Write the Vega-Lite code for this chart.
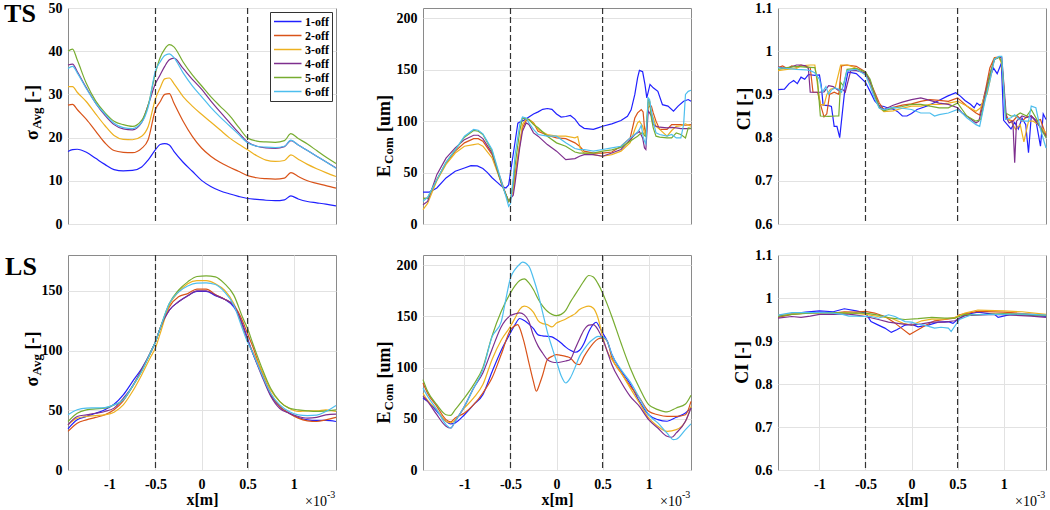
{
"$schema":"https://vega.github.io/schema/vega-lite/v6.json",
"padding":{"left":3,"top":0,"right":4,"bottom":0},
"config":{
 "view":{"stroke":"#8a8a8a","strokeWidth":1},
 "axis":{"domain":false,"ticks":false,"grid":true,"gridColor":"#e2e2e2","gridWidth":1,"labelFont":"Liberation Serif","labelFontWeight":"bold","labelFontSize":14,"labelColor":"#000","labelPadding":6,"labelOverlap":false,"labelFlush":false,"titleFont":"Liberation Serif","titleFontWeight":"bold","titleFontSize":16,"titleColor":"#000"},
 "text":{"font":"Liberation Serif","fontWeight":"bold","color":"#000"}
},
"datasets":{
"v":[{"x":-0.5},{"x":0.5}],
"a":[
{"s":1,"x":-1.45,"y":16.8},{"s":1,"x":-1.4,"y":17.2},{"s":1,"x":-1.35,"y":17.3},{"s":1,"x":-1.25,"y":16.6},{"s":1,"x":-1.15,"y":15.2},{"s":1,"x":-1.05,"y":13.8},{"s":1,"x":-0.95,"y":12.6},{"s":1,"x":-0.85,"y":12.3},{"s":1,"x":-0.75,"y":12.4},{"s":1,"x":-0.65,"y":13.2},{"s":1,"x":-0.58,"y":14.8},{"s":1,"x":-0.5,"y":17.2},{"s":1,"x":-0.45,"y":18.4},{"s":1,"x":-0.4,"y":18.6},{"s":1,"x":-0.35,"y":18.3},{"s":1,"x":-0.3,"y":16.8},{"s":1,"x":-0.2,"y":14.3},{"s":1,"x":-0.1,"y":12.2},{"s":1,"x":0,"y":10.1},{"s":1,"x":0.1,"y":8.7},{"s":1,"x":0.2,"y":7.7},{"s":1,"x":0.3,"y":7.0},{"s":1,"x":0.4,"y":6.4},{"s":1,"x":0.5,"y":5.9},{"s":1,"x":0.6,"y":5.7},{"s":1,"x":0.7,"y":5.5},{"s":1,"x":0.8,"y":5.4},{"s":1,"x":0.9,"y":5.6},{"s":1,"x":0.97,"y":6.5},{"s":1,"x":1.05,"y":5.8},{"s":1,"x":1.15,"y":5.2},{"s":1,"x":1.25,"y":4.9},{"s":1,"x":1.35,"y":4.6},{"s":1,"x":1.46,"y":4.2},
{"s":2,"x":-1.45,"y":27.5},{"s":2,"x":-1.4,"y":27.7},{"s":2,"x":-1.35,"y":26.5},{"s":2,"x":-1.25,"y":24.2},{"s":2,"x":-1.15,"y":21.5},{"s":2,"x":-1.05,"y":18.8},{"s":2,"x":-0.95,"y":17.0},{"s":2,"x":-0.85,"y":16.6},{"s":2,"x":-0.75,"y":16.5},{"s":2,"x":-0.65,"y":17.5},{"s":2,"x":-0.58,"y":19.5},{"s":2,"x":-0.5,"y":26.5},{"s":2,"x":-0.45,"y":28.3},{"s":2,"x":-0.4,"y":30.0},{"s":2,"x":-0.35,"y":30.2},{"s":2,"x":-0.3,"y":28.0},{"s":2,"x":-0.2,"y":23.8},{"s":2,"x":-0.1,"y":20.3},{"s":2,"x":0,"y":17.6},{"s":2,"x":0.1,"y":15.7},{"s":2,"x":0.2,"y":14.3},{"s":2,"x":0.3,"y":13.2},{"s":2,"x":0.4,"y":12.2},{"s":2,"x":0.5,"y":11.2},{"s":2,"x":0.6,"y":10.7},{"s":2,"x":0.7,"y":10.5},{"s":2,"x":0.8,"y":10.4},{"s":2,"x":0.9,"y":10.6},{"s":2,"x":0.97,"y":11.9},{"s":2,"x":1.05,"y":11.0},{"s":2,"x":1.15,"y":10.0},{"s":2,"x":1.25,"y":9.4},{"s":2,"x":1.35,"y":8.9},{"s":2,"x":1.46,"y":8.3},
{"s":3,"x":-1.45,"y":31.8},{"s":3,"x":-1.4,"y":31.8},{"s":3,"x":-1.35,"y":30.5},{"s":3,"x":-1.25,"y":28.3},{"s":3,"x":-1.15,"y":25.5},{"s":3,"x":-1.05,"y":22.8},{"s":3,"x":-0.95,"y":20.5},{"s":3,"x":-0.85,"y":19.6},{"s":3,"x":-0.75,"y":19.5},{"s":3,"x":-0.65,"y":20.3},{"s":3,"x":-0.58,"y":22.5},{"s":3,"x":-0.5,"y":29.0},{"s":3,"x":-0.45,"y":31.5},{"s":3,"x":-0.4,"y":33.6},{"s":3,"x":-0.35,"y":33.8},{"s":3,"x":-0.3,"y":32.5},{"s":3,"x":-0.2,"y":29.5},{"s":3,"x":-0.1,"y":27.3},{"s":3,"x":0,"y":25.4},{"s":3,"x":0.1,"y":23.6},{"s":3,"x":0.2,"y":21.8},{"s":3,"x":0.3,"y":20.0},{"s":3,"x":0.4,"y":18.5},{"s":3,"x":0.5,"y":17.2},{"s":3,"x":0.6,"y":15.8},{"s":3,"x":0.7,"y":14.8},{"s":3,"x":0.8,"y":14.5},{"s":3,"x":0.9,"y":14.7},{"s":3,"x":0.97,"y":16.0},{"s":3,"x":1.05,"y":15.0},{"s":3,"x":1.15,"y":13.8},{"s":3,"x":1.25,"y":12.8},{"s":3,"x":1.35,"y":11.9},{"s":3,"x":1.46,"y":11.0},
{"s":4,"x":-1.45,"y":36.8},{"s":4,"x":-1.4,"y":37.0},{"s":4,"x":-1.35,"y":35.3},{"s":4,"x":-1.25,"y":31.5},{"s":4,"x":-1.15,"y":28.0},{"s":4,"x":-1.05,"y":25.2},{"s":4,"x":-0.95,"y":23.0},{"s":4,"x":-0.85,"y":22.0},{"s":4,"x":-0.75,"y":21.8},{"s":4,"x":-0.65,"y":23.5},{"s":4,"x":-0.58,"y":27.5},{"s":4,"x":-0.5,"y":32.5},{"s":4,"x":-0.45,"y":34.5},{"s":4,"x":-0.4,"y":36.5},{"s":4,"x":-0.35,"y":38.0},{"s":4,"x":-0.3,"y":38.4},{"s":4,"x":-0.2,"y":36.0},{"s":4,"x":-0.1,"y":33.5},{"s":4,"x":0,"y":31.2},{"s":4,"x":0.1,"y":28.5},{"s":4,"x":0.2,"y":26.0},{"s":4,"x":0.3,"y":23.6},{"s":4,"x":0.4,"y":21.2},{"s":4,"x":0.5,"y":19.0},{"s":4,"x":0.6,"y":18.0},{"s":4,"x":0.7,"y":17.6},{"s":4,"x":0.8,"y":17.5},{"s":4,"x":0.9,"y":17.9},{"s":4,"x":0.97,"y":19.3},{"s":4,"x":1.05,"y":18.3},{"s":4,"x":1.15,"y":17.0},{"s":4,"x":1.25,"y":15.7},{"s":4,"x":1.35,"y":14.4},{"s":4,"x":1.46,"y":13.0},
{"s":5,"x":-1.45,"y":40.0},{"s":5,"x":-1.4,"y":40.5},{"s":5,"x":-1.35,"y":38.0},{"s":5,"x":-1.25,"y":32.5},{"s":5,"x":-1.15,"y":28.5},{"s":5,"x":-1.05,"y":25.8},{"s":5,"x":-0.95,"y":23.8},{"s":5,"x":-0.85,"y":23.0},{"s":5,"x":-0.75,"y":22.6},{"s":5,"x":-0.65,"y":24.0},{"s":5,"x":-0.58,"y":27.5},{"s":5,"x":-0.5,"y":35.0},{"s":5,"x":-0.45,"y":38.5},{"s":5,"x":-0.4,"y":40.5},{"s":5,"x":-0.35,"y":41.5},{"s":5,"x":-0.3,"y":41.0},{"s":5,"x":-0.2,"y":37.5},{"s":5,"x":-0.1,"y":34.5},{"s":5,"x":0,"y":32.0},{"s":5,"x":0.1,"y":29.5},{"s":5,"x":0.2,"y":27.3},{"s":5,"x":0.3,"y":25.2},{"s":5,"x":0.4,"y":22.5},{"s":5,"x":0.5,"y":19.9},{"s":5,"x":0.6,"y":19.2},{"s":5,"x":0.7,"y":19.0},{"s":5,"x":0.8,"y":18.9},{"s":5,"x":0.9,"y":19.3},{"s":5,"x":0.97,"y":20.9},{"s":5,"x":1.05,"y":19.8},{"s":5,"x":1.15,"y":18.5},{"s":5,"x":1.25,"y":17.0},{"s":5,"x":1.35,"y":15.5},{"s":5,"x":1.46,"y":14.0},
{"s":6,"x":-1.45,"y":36.0},{"s":6,"x":-1.4,"y":36.5},{"s":6,"x":-1.35,"y":35.0},{"s":6,"x":-1.25,"y":31.3},{"s":6,"x":-1.15,"y":28.0},{"s":6,"x":-1.05,"y":25.5},{"s":6,"x":-0.95,"y":23.3},{"s":6,"x":-0.85,"y":22.3},{"s":6,"x":-0.75,"y":22.1},{"s":6,"x":-0.65,"y":23.5},{"s":6,"x":-0.58,"y":27.0},{"s":6,"x":-0.5,"y":35.5},{"s":6,"x":-0.45,"y":37.5},{"s":6,"x":-0.4,"y":39.0},{"s":6,"x":-0.35,"y":39.4},{"s":6,"x":-0.3,"y":38.5},{"s":6,"x":-0.2,"y":35.0},{"s":6,"x":-0.1,"y":32.0},{"s":6,"x":0,"y":29.5},{"s":6,"x":0.1,"y":27.0},{"s":6,"x":0.2,"y":24.8},{"s":6,"x":0.3,"y":22.8},{"s":6,"x":0.4,"y":20.8},{"s":6,"x":0.5,"y":18.8},{"s":6,"x":0.6,"y":18.0},{"s":6,"x":0.7,"y":17.8},{"s":6,"x":0.8,"y":17.7},{"s":6,"x":0.9,"y":18.0},{"s":6,"x":0.97,"y":19.4},{"s":6,"x":1.05,"y":18.3},{"s":6,"x":1.15,"y":17.0},{"s":6,"x":1.25,"y":15.7},{"s":6,"x":1.35,"y":14.4},{"s":6,"x":1.46,"y":12.9}
],
"b":[
{"s":1,"x":-1.45,"y":31},{"s":1,"x":-1.38,"y":31},{"s":1,"x":-1.3,"y":35},{"s":1,"x":-1.2,"y":44.8},{"s":1,"x":-1.1,"y":51.3},{"s":1,"x":-1.0,"y":54.5},{"s":1,"x":-0.93,"y":56.8},{"s":1,"x":-0.86,"y":56.5},{"s":1,"x":-0.8,"y":54},{"s":1,"x":-0.75,"y":50},{"s":1,"x":-0.7,"y":45},{"s":1,"x":-0.65,"y":41},{"s":1,"x":-0.6,"y":37},{"s":1,"x":-0.55,"y":35},{"s":1,"x":-0.52,"y":38},{"s":1,"x":-0.48,"y":62},{"s":1,"x":-0.45,"y":80},{"s":1,"x":-0.42,"y":98},{"s":1,"x":-0.38,"y":100},{"s":1,"x":-0.35,"y":101},{"s":1,"x":-0.3,"y":104},{"s":1,"x":-0.25,"y":107},{"s":1,"x":-0.2,"y":109},{"s":1,"x":-0.15,"y":111.5},{"s":1,"x":-0.1,"y":112.3},{"s":1,"x":-0.05,"y":111.5},{"s":1,"x":0,"y":107},{"s":1,"x":0.05,"y":104},{"s":1,"x":0.1,"y":104.5},{"s":1,"x":0.15,"y":105.5},{"s":1,"x":0.2,"y":102},{"s":1,"x":0.25,"y":96},{"s":1,"x":0.3,"y":93},{"s":1,"x":0.4,"y":92},{"s":1,"x":0.45,"y":93.5},{"s":1,"x":0.5,"y":95},{"s":1,"x":0.6,"y":97.4},{"s":1,"x":0.7,"y":100.6},{"s":1,"x":0.77,"y":104.8},{"s":1,"x":0.81,"y":111},{"s":1,"x":0.85,"y":126},{"s":1,"x":0.88,"y":142},{"s":1,"x":0.9,"y":149.3},{"s":1,"x":0.935,"y":148},{"s":1,"x":0.96,"y":135.7},{"s":1,"x":0.98,"y":122.7},{"s":1,"x":1.015,"y":135.7},{"s":1,"x":1.05,"y":132.4},{"s":1,"x":1.1,"y":129},{"s":1,"x":1.15,"y":116},{"s":1,"x":1.21,"y":114.6},{"s":1,"x":1.27,"y":109.7},{"s":1,"x":1.32,"y":114.6},{"s":1,"x":1.38,"y":119.4},{"s":1,"x":1.43,"y":121},{"s":1,"x":1.46,"y":119.4},
{"s":2,"x":-1.45,"y":25},{"s":2,"x":-1.4,"y":25},{"s":2,"x":-1.3,"y":43},{"s":2,"x":-1.2,"y":59},{"s":2,"x":-1.1,"y":70.8},{"s":2,"x":-1.0,"y":78.9},{"s":2,"x":-0.9,"y":83},{"s":2,"x":-0.85,"y":83},{"s":2,"x":-0.8,"y":80.5},{"s":2,"x":-0.7,"y":67.5},{"s":2,"x":-0.6,"y":42},{"s":2,"x":-0.55,"y":28.6},{"s":2,"x":-0.52,"y":22},{"s":2,"x":-0.5,"y":24},{"s":2,"x":-0.47,"y":34},{"s":2,"x":-0.45,"y":48},{"s":2,"x":-0.4,"y":77},{"s":2,"x":-0.37,"y":93.5},{"s":2,"x":-0.33,"y":100.6},{"s":2,"x":-0.3,"y":101.6},{"s":2,"x":-0.25,"y":98.3},{"s":2,"x":-0.2,"y":90.2},{"s":2,"x":-0.1,"y":86.3},{"s":2,"x":0,"y":83.7},{"s":2,"x":0.1,"y":83},{"s":2,"x":0.2,"y":78.9},{"s":2,"x":0.25,"y":75.6},{"s":2,"x":0.3,"y":70.8},{"s":2,"x":0.4,"y":69},{"s":2,"x":0.5,"y":69},{"s":2,"x":0.6,"y":70},{"s":2,"x":0.7,"y":75.6},{"s":2,"x":0.8,"y":83.7},{"s":2,"x":0.85,"y":103},{"s":2,"x":0.88,"y":108},{"s":2,"x":0.92,"y":111.3},{"s":2,"x":0.94,"y":109},{"s":2,"x":0.955,"y":93.5},{"s":2,"x":0.97,"y":87},{"s":2,"x":0.995,"y":113},{"s":2,"x":1.01,"y":114.6},{"s":2,"x":1.03,"y":114.6},{"s":2,"x":1.05,"y":108},{"s":2,"x":1.08,"y":100},{"s":2,"x":1.12,"y":91.9},{"s":2,"x":1.2,"y":91.9},{"s":2,"x":1.25,"y":96.7},{"s":2,"x":1.3,"y":96.7},{"s":2,"x":1.35,"y":96.7},{"s":2,"x":1.4,"y":96},{"s":2,"x":1.46,"y":96.7},
{"s":3,"x":-1.45,"y":14},{"s":3,"x":-1.4,"y":20},{"s":3,"x":-1.3,"y":42},{"s":3,"x":-1.2,"y":58},{"s":3,"x":-1.1,"y":69},{"s":3,"x":-1.0,"y":75.6},{"s":3,"x":-0.9,"y":77.2},{"s":3,"x":-0.85,"y":78},{"s":3,"x":-0.8,"y":75.6},{"s":3,"x":-0.7,"y":64.3},{"s":3,"x":-0.6,"y":40},{"s":3,"x":-0.55,"y":28.6},{"s":3,"x":-0.52,"y":22},{"s":3,"x":-0.5,"y":24},{"s":3,"x":-0.47,"y":34},{"s":3,"x":-0.45,"y":45},{"s":3,"x":-0.4,"y":77},{"s":3,"x":-0.37,"y":96.7},{"s":3,"x":-0.33,"y":102},{"s":3,"x":-0.3,"y":101.6},{"s":3,"x":-0.25,"y":98.3},{"s":3,"x":-0.2,"y":91.9},{"s":3,"x":-0.1,"y":87},{"s":3,"x":0,"y":85.4},{"s":3,"x":0.1,"y":85.4},{"s":3,"x":0.2,"y":83.7},{"s":3,"x":0.23,"y":85},{"s":3,"x":0.26,"y":72.4},{"s":3,"x":0.3,"y":69},{"s":3,"x":0.4,"y":67.5},{"s":3,"x":0.5,"y":65.9},{"s":3,"x":0.6,"y":67.5},{"s":3,"x":0.7,"y":70.8},{"s":3,"x":0.8,"y":79},{"s":3,"x":0.85,"y":91.9},{"s":3,"x":0.88,"y":98.3},{"s":3,"x":0.9,"y":100},{"s":3,"x":0.935,"y":95},{"s":3,"x":0.955,"y":88.6},{"s":3,"x":0.97,"y":85},{"s":3,"x":0.995,"y":117.8},{"s":3,"x":1.01,"y":119.4},{"s":3,"x":1.03,"y":108},{"s":3,"x":1.05,"y":103},{"s":3,"x":1.08,"y":95},{"s":3,"x":1.12,"y":92},{"s":3,"x":1.2,"y":85.4},{"s":3,"x":1.25,"y":90.9},{"s":3,"x":1.3,"y":95},{"s":3,"x":1.35,"y":95.5},{"s":3,"x":1.4,"y":97.4},{"s":3,"x":1.46,"y":95},
{"s":4,"x":-1.45,"y":18.8},{"s":4,"x":-1.4,"y":22},{"s":4,"x":-1.3,"y":48},{"s":4,"x":-1.2,"y":64},{"s":4,"x":-1.1,"y":74},{"s":4,"x":-1.0,"y":82},{"s":4,"x":-0.9,"y":86.3},{"s":4,"x":-0.85,"y":86.3},{"s":4,"x":-0.8,"y":83},{"s":4,"x":-0.7,"y":69},{"s":4,"x":-0.6,"y":40},{"s":4,"x":-0.55,"y":28.6},{"s":4,"x":-0.52,"y":22},{"s":4,"x":-0.5,"y":25},{"s":4,"x":-0.47,"y":28},{"s":4,"x":-0.45,"y":40},{"s":4,"x":-0.4,"y":74},{"s":4,"x":-0.37,"y":90.2},{"s":4,"x":-0.33,"y":98.3},{"s":4,"x":-0.3,"y":96.7},{"s":4,"x":-0.25,"y":88.6},{"s":4,"x":-0.2,"y":85.4},{"s":4,"x":-0.1,"y":77.2},{"s":4,"x":0,"y":70.8},{"s":4,"x":0.1,"y":62.6},{"s":4,"x":0.2,"y":63.6},{"s":4,"x":0.25,"y":65.9},{"s":4,"x":0.3,"y":67.5},{"s":4,"x":0.4,"y":67.5},{"s":4,"x":0.5,"y":65.9},{"s":4,"x":0.6,"y":69},{"s":4,"x":0.7,"y":72.4},{"s":4,"x":0.8,"y":82},{"s":4,"x":0.85,"y":87},{"s":4,"x":0.88,"y":88.6},{"s":4,"x":0.9,"y":90},{"s":4,"x":0.935,"y":83.7},{"s":4,"x":0.955,"y":74},{"s":4,"x":0.97,"y":72.4},{"s":4,"x":0.995,"y":110},{"s":4,"x":1.01,"y":108},{"s":4,"x":1.03,"y":105},{"s":4,"x":1.05,"y":96.7},{"s":4,"x":1.08,"y":95},{"s":4,"x":1.12,"y":94.1},{"s":4,"x":1.2,"y":93.5},{"s":4,"x":1.25,"y":94},{"s":4,"x":1.3,"y":93.5},{"s":4,"x":1.35,"y":92.8},{"s":4,"x":1.4,"y":92.8},{"s":4,"x":1.46,"y":92.8},
{"s":5,"x":-1.45,"y":25},{"s":5,"x":-1.4,"y":25},{"s":5,"x":-1.3,"y":43},{"s":5,"x":-1.2,"y":60},{"s":5,"x":-1.1,"y":72},{"s":5,"x":-1.0,"y":84.4},{"s":5,"x":-0.9,"y":90.9},{"s":5,"x":-0.85,"y":90.2},{"s":5,"x":-0.8,"y":87},{"s":5,"x":-0.7,"y":71},{"s":5,"x":-0.6,"y":40},{"s":5,"x":-0.55,"y":28.6},{"s":5,"x":-0.52,"y":22},{"s":5,"x":-0.5,"y":25},{"s":5,"x":-0.47,"y":40},{"s":5,"x":-0.45,"y":57},{"s":5,"x":-0.4,"y":90.2},{"s":5,"x":-0.37,"y":103},{"s":5,"x":-0.33,"y":102.6},{"s":5,"x":-0.3,"y":101.6},{"s":5,"x":-0.25,"y":96.7},{"s":5,"x":-0.2,"y":93.5},{"s":5,"x":-0.1,"y":85.4},{"s":5,"x":0,"y":78.9},{"s":5,"x":0.1,"y":75.6},{"s":5,"x":0.2,"y":70},{"s":5,"x":0.25,"y":69},{"s":5,"x":0.3,"y":69},{"s":5,"x":0.4,"y":69},{"s":5,"x":0.5,"y":70.8},{"s":5,"x":0.6,"y":72},{"s":5,"x":0.7,"y":74.5},{"s":5,"x":0.8,"y":80.5},{"s":5,"x":0.85,"y":83.7},{"s":5,"x":0.88,"y":85.4},{"s":5,"x":0.9,"y":87},{"s":5,"x":0.935,"y":89},{"s":5,"x":0.955,"y":86},{"s":5,"x":0.97,"y":85},{"s":5,"x":0.995,"y":121},{"s":5,"x":1.01,"y":119.4},{"s":5,"x":1.03,"y":103},{"s":5,"x":1.05,"y":93.5},{"s":5,"x":1.08,"y":85.4},{"s":5,"x":1.12,"y":84.4},{"s":5,"x":1.2,"y":83.7},{"s":5,"x":1.25,"y":83.7},{"s":5,"x":1.3,"y":88.6},{"s":5,"x":1.35,"y":87},{"s":5,"x":1.4,"y":83.7},{"s":5,"x":1.43,"y":93.5},{"s":5,"x":1.46,"y":93},
{"s":6,"x":-1.45,"y":22},{"s":6,"x":-1.4,"y":26},{"s":6,"x":-1.3,"y":43},{"s":6,"x":-1.2,"y":60},{"s":6,"x":-1.1,"y":72},{"s":6,"x":-1.0,"y":85.4},{"s":6,"x":-0.9,"y":91.9},{"s":6,"x":-0.85,"y":91.2},{"s":6,"x":-0.8,"y":87.6},{"s":6,"x":-0.7,"y":72.4},{"s":6,"x":-0.6,"y":42},{"s":6,"x":-0.55,"y":27},{"s":6,"x":-0.52,"y":17.2},{"s":6,"x":-0.5,"y":20},{"s":6,"x":-0.47,"y":44.8},{"s":6,"x":-0.45,"y":67.5},{"s":6,"x":-0.4,"y":96.7},{"s":6,"x":-0.37,"y":104},{"s":6,"x":-0.33,"y":103},{"s":6,"x":-0.3,"y":98.3},{"s":6,"x":-0.25,"y":92},{"s":6,"x":-0.2,"y":87},{"s":6,"x":-0.1,"y":85.4},{"s":6,"x":0,"y":85.4},{"s":6,"x":0.1,"y":78.9},{"s":6,"x":0.2,"y":73.4},{"s":6,"x":0.25,"y":72.4},{"s":6,"x":0.3,"y":72.4},{"s":6,"x":0.4,"y":70.8},{"s":6,"x":0.5,"y":72.4},{"s":6,"x":0.6,"y":74},{"s":6,"x":0.7,"y":75.6},{"s":6,"x":0.8,"y":83.7},{"s":6,"x":0.85,"y":87},{"s":6,"x":0.88,"y":89.6},{"s":6,"x":0.9,"y":91.9},{"s":6,"x":0.92,"y":96},{"s":6,"x":0.94,"y":85},{"s":6,"x":0.955,"y":80.5},{"s":6,"x":0.97,"y":78},{"s":6,"x":0.995,"y":122.7},{"s":6,"x":1.01,"y":121},{"s":6,"x":1.03,"y":109.7},{"s":6,"x":1.05,"y":100},{"s":6,"x":1.08,"y":88.6},{"s":6,"x":1.12,"y":87},{"s":6,"x":1.2,"y":85.4},{"s":6,"x":1.25,"y":87},{"s":6,"x":1.3,"y":83.7},{"s":6,"x":1.35,"y":83.7},{"s":6,"x":1.38,"y":96.7},{"s":6,"x":1.4,"y":126},{"s":6,"x":1.43,"y":129},{"s":6,"x":1.46,"y":130}
],
"c":[
{"s":1,"x":-1.45,"y":0.911},{"s":1,"x":-1.38,"y":0.912},{"s":1,"x":-1.33,"y":0.925},{"s":1,"x":-1.28,"y":0.932},{"s":1,"x":-1.24,"y":0.925},{"s":1,"x":-1.2,"y":0.94},{"s":1,"x":-1.16,"y":0.935},{"s":1,"x":-1.12,"y":0.946},{"s":1,"x":-1.05,"y":0.944},{"s":1,"x":-1.0,"y":0.945},{"s":1,"x":-0.98,"y":0.92},{"s":1,"x":-0.96,"y":0.875},{"s":1,"x":-0.9,"y":0.874},{"s":1,"x":-0.87,"y":0.872},{"s":1,"x":-0.84,"y":0.826},{"s":1,"x":-0.81,"y":0.826},{"s":1,"x":-0.78,"y":0.8},{"s":1,"x":-0.75,"y":0.86},{"s":1,"x":-0.72,"y":0.92},{"s":1,"x":-0.69,"y":0.952},{"s":1,"x":-0.6,"y":0.948},{"s":1,"x":-0.5,"y":0.928},{"s":1,"x":-0.45,"y":0.907},{"s":1,"x":-0.4,"y":0.885},{"s":1,"x":-0.35,"y":0.874},{"s":1,"x":-0.3,"y":0.872},{"s":1,"x":-0.25,"y":0.868},{"s":1,"x":-0.2,"y":0.866},{"s":1,"x":-0.15,"y":0.86},{"s":1,"x":-0.1,"y":0.85},{"s":1,"x":-0.05,"y":0.85},{"s":1,"x":0,"y":0.856},{"s":1,"x":0.06,"y":0.865},{"s":1,"x":0.17,"y":0.873},{"s":1,"x":0.28,"y":0.884},{"s":1,"x":0.39,"y":0.896},{"s":1,"x":0.48,"y":0.904},{"s":1,"x":0.53,"y":0.896},{"s":1,"x":0.58,"y":0.886},{"s":1,"x":0.64,"y":0.877},{"s":1,"x":0.68,"y":0.869},{"s":1,"x":0.71,"y":0.88},{"s":1,"x":0.74,"y":0.875},{"s":1,"x":0.77,"y":0.878},{"s":1,"x":0.8,"y":0.905},{"s":1,"x":0.84,"y":0.934},{"s":1,"x":0.89,"y":0.961},{"s":1,"x":0.93,"y":0.948},{"s":1,"x":0.975,"y":0.972},{"s":1,"x":1.0,"y":0.84},{"s":1,"x":1.04,"y":0.83},{"s":1,"x":1.08,"y":0.82},{"s":1,"x":1.12,"y":0.835},{"s":1,"x":1.16,"y":0.82},{"s":1,"x":1.2,"y":0.845},{"s":1,"x":1.24,"y":0.83},{"s":1,"x":1.27,"y":0.765},{"s":1,"x":1.3,"y":0.85},{"s":1,"x":1.35,"y":0.84},{"s":1,"x":1.4,"y":0.78},{"s":1,"x":1.43,"y":0.855},{"s":1,"x":1.46,"y":0.842},
{"s":2,"x":-1.45,"y":0.962},{"s":2,"x":-1.4,"y":0.966},{"s":2,"x":-1.35,"y":0.96},{"s":2,"x":-1.3,"y":0.966},{"s":2,"x":-1.25,"y":0.963},{"s":2,"x":-1.2,"y":0.968},{"s":2,"x":-1.15,"y":0.965},{"s":2,"x":-1.1,"y":0.962},{"s":2,"x":-1.07,"y":0.905},{"s":2,"x":-1.02,"y":0.905},{"s":2,"x":-0.98,"y":0.87},{"s":2,"x":-0.95,"y":0.848},{"s":2,"x":-0.92,"y":0.855},{"s":2,"x":-0.89,"y":0.9},{"s":2,"x":-0.84,"y":0.905},{"s":2,"x":-0.79,"y":0.9},{"s":2,"x":-0.76,"y":0.966},{"s":2,"x":-0.7,"y":0.968},{"s":2,"x":-0.6,"y":0.965},{"s":2,"x":-0.5,"y":0.952},{"s":2,"x":-0.45,"y":0.93},{"s":2,"x":-0.4,"y":0.905},{"s":2,"x":-0.35,"y":0.88},{"s":2,"x":-0.3,"y":0.865},{"s":2,"x":-0.2,"y":0.87},{"s":2,"x":-0.1,"y":0.875},{"s":2,"x":0,"y":0.878},{"s":2,"x":0.1,"y":0.884},{"s":2,"x":0.2,"y":0.888},{"s":2,"x":0.3,"y":0.886},{"s":2,"x":0.4,"y":0.884},{"s":2,"x":0.5,"y":0.892},{"s":2,"x":0.6,"y":0.873},{"s":2,"x":0.7,"y":0.857},{"s":2,"x":0.74,"y":0.852},{"s":2,"x":0.8,"y":0.907},{"s":2,"x":0.85,"y":0.961},{"s":2,"x":0.9,"y":0.985},{"s":2,"x":0.95,"y":0.986},{"s":2,"x":0.98,"y":0.975},{"s":2,"x":1.02,"y":0.857},{"s":2,"x":1.05,"y":0.842},{"s":2,"x":1.1,"y":0.838},{"s":2,"x":1.15,"y":0.85},{"s":2,"x":1.2,"y":0.838},{"s":2,"x":1.25,"y":0.848},{"s":2,"x":1.3,"y":0.85},{"s":2,"x":1.35,"y":0.838},{"s":2,"x":1.4,"y":0.842},{"s":2,"x":1.46,"y":0.805},
{"s":3,"x":-1.45,"y":0.955},{"s":3,"x":-1.35,"y":0.958},{"s":3,"x":-1.25,"y":0.96},{"s":3,"x":-1.2,"y":0.966},{"s":3,"x":-1.1,"y":0.968},{"s":3,"x":-1.05,"y":0.968},{"s":3,"x":-1.02,"y":0.92},{"s":3,"x":-0.99,"y":0.877},{"s":3,"x":-0.95,"y":0.875},{"s":3,"x":-0.92,"y":0.9},{"s":3,"x":-0.88,"y":0.912},{"s":3,"x":-0.83,"y":0.915},{"s":3,"x":-0.79,"y":0.95},{"s":3,"x":-0.77,"y":0.968},{"s":3,"x":-0.7,"y":0.968},{"s":3,"x":-0.65,"y":0.965},{"s":3,"x":-0.6,"y":0.96},{"s":3,"x":-0.5,"y":0.946},{"s":3,"x":-0.45,"y":0.925},{"s":3,"x":-0.4,"y":0.895},{"s":3,"x":-0.35,"y":0.87},{"s":3,"x":-0.3,"y":0.86},{"s":3,"x":-0.2,"y":0.862},{"s":3,"x":-0.1,"y":0.868},{"s":3,"x":0,"y":0.873},{"s":3,"x":0.1,"y":0.873},{"s":3,"x":0.2,"y":0.877},{"s":3,"x":0.3,"y":0.877},{"s":3,"x":0.4,"y":0.88},{"s":3,"x":0.5,"y":0.884},{"s":3,"x":0.6,"y":0.873},{"s":3,"x":0.7,"y":0.861},{"s":3,"x":0.75,"y":0.869},{"s":3,"x":0.8,"y":0.9},{"s":3,"x":0.82,"y":0.9},{"s":3,"x":0.85,"y":0.93},{"s":3,"x":0.9,"y":0.983},{"s":3,"x":0.95,"y":0.986},{"s":3,"x":0.98,"y":0.97},{"s":3,"x":1.0,"y":0.925},{"s":3,"x":1.02,"y":0.846},{"s":3,"x":1.08,"y":0.838},{"s":3,"x":1.13,"y":0.819},{"s":3,"x":1.18,"y":0.83},{"s":3,"x":1.22,"y":0.79},{"s":3,"x":1.27,"y":0.838},{"s":3,"x":1.32,"y":0.838},{"s":3,"x":1.38,"y":0.83},{"s":3,"x":1.46,"y":0.811},
{"s":4,"x":-1.45,"y":0.963},{"s":4,"x":-1.35,"y":0.96},{"s":4,"x":-1.25,"y":0.968},{"s":4,"x":-1.2,"y":0.968},{"s":4,"x":-1.15,"y":0.966},{"s":4,"x":-1.12,"y":0.96},{"s":4,"x":-1.1,"y":0.905},{"s":4,"x":-1.0,"y":0.905},{"s":4,"x":-0.95,"y":0.906},{"s":4,"x":-0.9,"y":0.92},{"s":4,"x":-0.85,"y":0.918},{"s":4,"x":-0.8,"y":0.91},{"s":4,"x":-0.75,"y":0.912},{"s":4,"x":-0.72,"y":0.905},{"s":4,"x":-0.69,"y":0.93},{"s":4,"x":-0.66,"y":0.955},{"s":4,"x":-0.6,"y":0.955},{"s":4,"x":-0.5,"y":0.95},{"s":4,"x":-0.45,"y":0.93},{"s":4,"x":-0.4,"y":0.9},{"s":4,"x":-0.35,"y":0.872},{"s":4,"x":-0.3,"y":0.865},{"s":4,"x":-0.2,"y":0.875},{"s":4,"x":-0.1,"y":0.882},{"s":4,"x":0,"y":0.888},{"s":4,"x":0.1,"y":0.892},{"s":4,"x":0.2,"y":0.886},{"s":4,"x":0.3,"y":0.88},{"s":4,"x":0.4,"y":0.877},{"s":4,"x":0.5,"y":0.869},{"s":4,"x":0.55,"y":0.857},{"s":4,"x":0.6,"y":0.85},{"s":4,"x":0.65,"y":0.842},{"s":4,"x":0.7,"y":0.834},{"s":4,"x":0.73,"y":0.838},{"s":4,"x":0.77,"y":0.87},{"s":4,"x":0.8,"y":0.9},{"s":4,"x":0.85,"y":0.946},{"s":4,"x":0.9,"y":0.981},{"s":4,"x":0.95,"y":0.986},{"s":4,"x":0.98,"y":0.985},{"s":4,"x":1.0,"y":0.93},{"s":4,"x":1.03,"y":0.846},{"s":4,"x":1.06,"y":0.834},{"s":4,"x":1.1,"y":0.838},{"s":4,"x":1.12,"y":0.742},{"s":4,"x":1.14,"y":0.838},{"s":4,"x":1.2,"y":0.85},{"s":4,"x":1.25,"y":0.846},{"s":4,"x":1.3,"y":0.85},{"s":4,"x":1.35,"y":0.838},{"s":4,"x":1.4,"y":0.823},{"s":4,"x":1.46,"y":0.803},
{"s":5,"x":-1.45,"y":0.958},{"s":5,"x":-1.35,"y":0.962},{"s":5,"x":-1.25,"y":0.965},{"s":5,"x":-1.15,"y":0.963},{"s":5,"x":-1.05,"y":0.962},{"s":5,"x":-1.02,"y":0.93},{"s":5,"x":-0.99,"y":0.85},{"s":5,"x":-0.9,"y":0.849},{"s":5,"x":-0.82,"y":0.85},{"s":5,"x":-0.79,"y":0.85},{"s":5,"x":-0.77,"y":0.928},{"s":5,"x":-0.74,"y":0.92},{"s":5,"x":-0.7,"y":0.958},{"s":5,"x":-0.6,"y":0.96},{"s":5,"x":-0.5,"y":0.952},{"s":5,"x":-0.45,"y":0.935},{"s":5,"x":-0.4,"y":0.9},{"s":5,"x":-0.35,"y":0.87},{"s":5,"x":-0.3,"y":0.862},{"s":5,"x":-0.2,"y":0.868},{"s":5,"x":-0.1,"y":0.872},{"s":5,"x":0,"y":0.877},{"s":5,"x":0.1,"y":0.877},{"s":5,"x":0.2,"y":0.873},{"s":5,"x":0.3,"y":0.869},{"s":5,"x":0.4,"y":0.869},{"s":5,"x":0.5,"y":0.88},{"s":5,"x":0.55,"y":0.865},{"s":5,"x":0.6,"y":0.85},{"s":5,"x":0.7,"y":0.838},{"s":5,"x":0.75,"y":0.842},{"s":5,"x":0.8,"y":0.892},{"s":5,"x":0.85,"y":0.946},{"s":5,"x":0.9,"y":0.981},{"s":5,"x":0.95,"y":0.986},{"s":5,"x":0.98,"y":0.975},{"s":5,"x":1.02,"y":0.857},{"s":5,"x":1.08,"y":0.85},{"s":5,"x":1.13,"y":0.85},{"s":5,"x":1.18,"y":0.857},{"s":5,"x":1.25,"y":0.85},{"s":5,"x":1.3,"y":0.865},{"s":5,"x":1.35,"y":0.846},{"s":5,"x":1.4,"y":0.823},{"s":5,"x":1.46,"y":0.8},
{"s":6,"x":-1.45,"y":0.962},{"s":6,"x":-1.35,"y":0.96},{"s":6,"x":-1.25,"y":0.958},{"s":6,"x":-1.15,"y":0.957},{"s":6,"x":-1.1,"y":0.955},{"s":6,"x":-1.05,"y":0.95},{"s":6,"x":-1.0,"y":0.935},{"s":6,"x":-0.97,"y":0.905},{"s":6,"x":-0.93,"y":0.918},{"s":6,"x":-0.9,"y":0.9},{"s":6,"x":-0.87,"y":0.91},{"s":6,"x":-0.83,"y":0.915},{"s":6,"x":-0.79,"y":0.912},{"s":6,"x":-0.76,"y":0.905},{"s":6,"x":-0.73,"y":0.93},{"s":6,"x":-0.7,"y":0.955},{"s":6,"x":-0.6,"y":0.958},{"s":6,"x":-0.5,"y":0.945},{"s":6,"x":-0.45,"y":0.92},{"s":6,"x":-0.4,"y":0.89},{"s":6,"x":-0.35,"y":0.868},{"s":6,"x":-0.3,"y":0.865},{"s":6,"x":-0.2,"y":0.87},{"s":6,"x":-0.1,"y":0.868},{"s":6,"x":0,"y":0.865},{"s":6,"x":0.1,"y":0.857},{"s":6,"x":0.2,"y":0.857},{"s":6,"x":0.25,"y":0.85},{"s":6,"x":0.3,"y":0.853},{"s":6,"x":0.4,"y":0.857},{"s":6,"x":0.5,"y":0.865},{"s":6,"x":0.55,"y":0.857},{"s":6,"x":0.6,"y":0.846},{"s":6,"x":0.7,"y":0.83},{"s":6,"x":0.74,"y":0.826},{"s":6,"x":0.8,"y":0.888},{"s":6,"x":0.85,"y":0.93},{"s":6,"x":0.9,"y":0.981},{"s":6,"x":0.95,"y":0.988},{"s":6,"x":0.98,"y":0.988},{"s":6,"x":1.02,"y":0.842},{"s":6,"x":1.08,"y":0.846},{"s":6,"x":1.12,"y":0.853},{"s":6,"x":1.17,"y":0.842},{"s":6,"x":1.22,"y":0.838},{"s":6,"x":1.27,"y":0.838},{"s":6,"x":1.3,"y":0.873},{"s":6,"x":1.35,"y":0.869},{"s":6,"x":1.4,"y":0.819},{"s":6,"x":1.46,"y":0.776}
],
"d":[
{"s":1,"x":-1.45,"y":34.5},{"s":1,"x":-1.35,"y":42},{"s":1,"x":-1.25,"y":44.8},{"s":1,"x":-1.15,"y":47.5},{"s":1,"x":-1.05,"y":50.4},{"s":1,"x":-0.95,"y":55},{"s":1,"x":-0.85,"y":62.9},{"s":1,"x":-0.75,"y":74},{"s":1,"x":-0.65,"y":85},{"s":1,"x":-0.55,"y":99},{"s":1,"x":-0.5,"y":107.4},{"s":1,"x":-0.45,"y":118.5},{"s":1,"x":-0.35,"y":133.8},{"s":1,"x":-0.25,"y":140.8},{"s":1,"x":-0.15,"y":145.8},{"s":1,"x":-0.05,"y":149.5},{"s":1,"x":0.05,"y":149.5},{"s":1,"x":0.15,"y":146},{"s":1,"x":0.25,"y":143},{"s":1,"x":0.35,"y":136.6},{"s":1,"x":0.45,"y":121.3},{"s":1,"x":0.5,"y":110},{"s":1,"x":0.55,"y":99},{"s":1,"x":0.65,"y":81},{"s":1,"x":0.75,"y":62.9},{"s":1,"x":0.85,"y":53},{"s":1,"x":0.95,"y":47.6},{"s":1,"x":1.05,"y":44},{"s":1,"x":1.15,"y":42},{"s":1,"x":1.25,"y":41.5},{"s":1,"x":1.35,"y":41.5},{"s":1,"x":1.46,"y":40.6},
{"s":2,"x":-1.45,"y":32.3},{"s":2,"x":-1.35,"y":39.2},{"s":2,"x":-1.25,"y":42},{"s":2,"x":-1.15,"y":44},{"s":2,"x":-1.05,"y":46.2},{"s":2,"x":-0.95,"y":50.4},{"s":2,"x":-0.85,"y":57.9},{"s":2,"x":-0.75,"y":70},{"s":2,"x":-0.65,"y":83.8},{"s":2,"x":-0.55,"y":99},{"s":2,"x":-0.5,"y":107.4},{"s":2,"x":-0.45,"y":118.5},{"s":2,"x":-0.35,"y":136.6},{"s":2,"x":-0.25,"y":145},{"s":2,"x":-0.15,"y":147.7},{"s":2,"x":-0.05,"y":151.5},{"s":2,"x":0.05,"y":151.5},{"s":2,"x":0.15,"y":147},{"s":2,"x":0.25,"y":143},{"s":2,"x":0.35,"y":138},{"s":2,"x":0.45,"y":124},{"s":2,"x":0.5,"y":114},{"s":2,"x":0.55,"y":104.6},{"s":2,"x":0.65,"y":82.7},{"s":2,"x":0.75,"y":64.3},{"s":2,"x":0.85,"y":53},{"s":2,"x":0.95,"y":47.6},{"s":2,"x":1.05,"y":43.4},{"s":2,"x":1.15,"y":41.2},{"s":2,"x":1.25,"y":40.6},{"s":2,"x":1.35,"y":42},{"s":2,"x":1.46,"y":44},
{"s":3,"x":-1.45,"y":37.8},{"s":3,"x":-1.35,"y":43.4},{"s":3,"x":-1.25,"y":44.8},{"s":3,"x":-1.15,"y":45.5},{"s":3,"x":-1.05,"y":46.2},{"s":3,"x":-0.95,"y":48.4},{"s":3,"x":-0.85,"y":54.5},{"s":3,"x":-0.75,"y":65.7},{"s":3,"x":-0.65,"y":79.6},{"s":3,"x":-0.55,"y":95},{"s":3,"x":-0.5,"y":102.4},{"s":3,"x":-0.45,"y":114},{"s":3,"x":-0.35,"y":138},{"s":3,"x":-0.25,"y":149},{"s":3,"x":-0.15,"y":156},{"s":3,"x":-0.05,"y":158.5},{"s":3,"x":0.05,"y":158.5},{"s":3,"x":0.15,"y":156},{"s":3,"x":0.25,"y":150.5},{"s":3,"x":0.35,"y":139.4},{"s":3,"x":0.45,"y":118.5},{"s":3,"x":0.5,"y":108},{"s":3,"x":0.55,"y":100},{"s":3,"x":0.65,"y":84},{"s":3,"x":0.75,"y":67},{"s":3,"x":0.85,"y":57.3},{"s":3,"x":0.95,"y":51.8},{"s":3,"x":1.05,"y":49},{"s":3,"x":1.15,"y":49.5},{"s":3,"x":1.25,"y":49.5},{"s":3,"x":1.35,"y":50.4},{"s":3,"x":1.46,"y":49},
{"s":4,"x":-1.45,"y":37.8},{"s":4,"x":-1.35,"y":44.8},{"s":4,"x":-1.25,"y":46.2},{"s":4,"x":-1.15,"y":47.5},{"s":4,"x":-1.05,"y":49},{"s":4,"x":-0.95,"y":51.8},{"s":4,"x":-0.85,"y":60},{"s":4,"x":-0.75,"y":70},{"s":4,"x":-0.65,"y":83.8},{"s":4,"x":-0.55,"y":99},{"s":4,"x":-0.5,"y":107.4},{"s":4,"x":-0.45,"y":118.5},{"s":4,"x":-0.35,"y":133.8},{"s":4,"x":-0.25,"y":140.8},{"s":4,"x":-0.15,"y":145.8},{"s":4,"x":-0.05,"y":150},{"s":4,"x":0.05,"y":150},{"s":4,"x":0.15,"y":146.4},{"s":4,"x":0.25,"y":143},{"s":4,"x":0.35,"y":138},{"s":4,"x":0.45,"y":120},{"s":4,"x":0.5,"y":108.5},{"s":4,"x":0.55,"y":99},{"s":4,"x":0.65,"y":79.6},{"s":4,"x":0.75,"y":62},{"s":4,"x":0.85,"y":51.5},{"s":4,"x":0.95,"y":47.6},{"s":4,"x":1.05,"y":44.8},{"s":4,"x":1.15,"y":43.4},{"s":4,"x":1.25,"y":44},{"s":4,"x":1.35,"y":46.2},{"s":4,"x":1.46,"y":46.7},
{"s":5,"x":-1.45,"y":40.6},{"s":5,"x":-1.35,"y":47.6},{"s":5,"x":-1.25,"y":50.4},{"s":5,"x":-1.15,"y":51.2},{"s":5,"x":-1.05,"y":51.8},{"s":5,"x":-0.95,"y":54.5},{"s":5,"x":-0.85,"y":58.7},{"s":5,"x":-0.75,"y":70},{"s":5,"x":-0.65,"y":82.7},{"s":5,"x":-0.55,"y":99},{"s":5,"x":-0.5,"y":107.4},{"s":5,"x":-0.45,"y":118.5},{"s":5,"x":-0.35,"y":139.4},{"s":5,"x":-0.25,"y":150.5},{"s":5,"x":-0.15,"y":157.5},{"s":5,"x":-0.05,"y":162},{"s":5,"x":0.05,"y":162.5},{"s":5,"x":0.15,"y":161.7},{"s":5,"x":0.25,"y":156},{"s":5,"x":0.35,"y":146.4},{"s":5,"x":0.45,"y":127},{"s":5,"x":0.5,"y":118.5},{"s":5,"x":0.55,"y":107.4},{"s":5,"x":0.65,"y":86.5},{"s":5,"x":0.75,"y":68.4},{"s":5,"x":0.85,"y":57.3},{"s":5,"x":0.95,"y":51.8},{"s":5,"x":1.05,"y":50.4},{"s":5,"x":1.15,"y":49.5},{"s":5,"x":1.25,"y":49},{"s":5,"x":1.35,"y":49.5},{"s":5,"x":1.46,"y":50.4},
{"s":6,"x":-1.45,"y":46.2},{"s":6,"x":-1.35,"y":50.4},{"s":6,"x":-1.25,"y":51.8},{"s":6,"x":-1.15,"y":52},{"s":6,"x":-1.05,"y":52.3},{"s":6,"x":-0.95,"y":54.5},{"s":6,"x":-0.85,"y":58.7},{"s":6,"x":-0.75,"y":70},{"s":6,"x":-0.65,"y":82.7},{"s":6,"x":-0.55,"y":99},{"s":6,"x":-0.5,"y":107.4},{"s":6,"x":-0.45,"y":118.5},{"s":6,"x":-0.35,"y":139.4},{"s":6,"x":-0.25,"y":149},{"s":6,"x":-0.15,"y":154},{"s":6,"x":-0.05,"y":156.4},{"s":6,"x":0.05,"y":156.6},{"s":6,"x":0.15,"y":155.3},{"s":6,"x":0.25,"y":149},{"s":6,"x":0.35,"y":138},{"s":6,"x":0.45,"y":117},{"s":6,"x":0.5,"y":107},{"s":6,"x":0.55,"y":99},{"s":6,"x":0.65,"y":81},{"s":6,"x":0.75,"y":64.3},{"s":6,"x":0.85,"y":54.5},{"s":6,"x":0.95,"y":49},{"s":6,"x":1.05,"y":46.2},{"s":6,"x":1.15,"y":45.6},{"s":6,"x":1.25,"y":46},{"s":6,"x":1.35,"y":49},{"s":6,"x":1.46,"y":54}
],
"e":[
{"s":1,"x":-1.45,"y":70.4},{"s":1,"x":-1.4,"y":67},{"s":1,"x":-1.3,"y":57.3},{"s":1,"x":-1.2,"y":47.6},{"s":1,"x":-1.15,"y":45},{"s":1,"x":-1.1,"y":46},{"s":1,"x":-1.0,"y":54},{"s":1,"x":-0.9,"y":63.8},{"s":1,"x":-0.8,"y":73.6},{"s":1,"x":-0.7,"y":96},{"s":1,"x":-0.6,"y":117},{"s":1,"x":-0.5,"y":134},{"s":1,"x":-0.45,"y":142},{"s":1,"x":-0.4,"y":148},{"s":1,"x":-0.35,"y":146},{"s":1,"x":-0.3,"y":142.5},{"s":1,"x":-0.25,"y":138},{"s":1,"x":-0.2,"y":132},{"s":1,"x":-0.15,"y":131},{"s":1,"x":-0.1,"y":130.6},{"s":1,"x":-0.05,"y":130},{"s":1,"x":0,"y":127.4},{"s":1,"x":0.05,"y":124},{"s":1,"x":0.1,"y":120},{"s":1,"x":0.15,"y":117},{"s":1,"x":0.2,"y":115},{"s":1,"x":0.25,"y":117},{"s":1,"x":0.3,"y":124},{"s":1,"x":0.35,"y":135},{"s":1,"x":0.4,"y":142.5},{"s":1,"x":0.43,"y":144.3},{"s":1,"x":0.47,"y":139},{"s":1,"x":0.5,"y":134},{"s":1,"x":0.55,"y":126},{"s":1,"x":0.6,"y":113},{"s":1,"x":0.7,"y":97},{"s":1,"x":0.8,"y":84},{"s":1,"x":0.9,"y":67},{"s":1,"x":1.0,"y":54},{"s":1,"x":1.1,"y":49.2},{"s":1,"x":1.2,"y":47.6},{"s":1,"x":1.3,"y":51.5},{"s":1,"x":1.4,"y":55.7},{"s":1,"x":1.46,"y":60.6},
{"s":2,"x":-1.45,"y":85},{"s":2,"x":-1.4,"y":75},{"s":2,"x":-1.3,"y":62.2},{"s":2,"x":-1.2,"y":49.2},{"s":2,"x":-1.15,"y":47},{"s":2,"x":-1.1,"y":50.8},{"s":2,"x":-1.0,"y":55.7},{"s":2,"x":-0.9,"y":63.8},{"s":2,"x":-0.8,"y":75.2},{"s":2,"x":-0.7,"y":90},{"s":2,"x":-0.6,"y":113},{"s":2,"x":-0.5,"y":137},{"s":2,"x":-0.45,"y":141},{"s":2,"x":-0.42,"y":142},{"s":2,"x":-0.4,"y":138.8},{"s":2,"x":-0.35,"y":124},{"s":2,"x":-0.3,"y":104.6},{"s":2,"x":-0.25,"y":86},{"s":2,"x":-0.22,"y":76.9},{"s":2,"x":-0.18,"y":85},{"s":2,"x":-0.15,"y":93},{"s":2,"x":-0.1,"y":107.8},{"s":2,"x":-0.05,"y":111},{"s":2,"x":0,"y":112.7},{"s":2,"x":0.05,"y":112},{"s":2,"x":0.1,"y":111},{"s":2,"x":0.15,"y":109.4},{"s":2,"x":0.2,"y":104.6},{"s":2,"x":0.25,"y":103},{"s":2,"x":0.3,"y":111},{"s":2,"x":0.35,"y":118},{"s":2,"x":0.4,"y":124},{"s":2,"x":0.45,"y":128},{"s":2,"x":0.5,"y":129},{"s":2,"x":0.55,"y":126},{"s":2,"x":0.6,"y":110},{"s":2,"x":0.7,"y":95},{"s":2,"x":0.8,"y":82},{"s":2,"x":0.9,"y":70.4},{"s":2,"x":1.0,"y":57.3},{"s":2,"x":1.1,"y":54},{"s":2,"x":1.2,"y":52.4},{"s":2,"x":1.3,"y":52.4},{"s":2,"x":1.4,"y":54},{"s":2,"x":1.46,"y":67},
{"s":3,"x":-1.45,"y":75},{"s":3,"x":-1.4,"y":68},{"s":3,"x":-1.3,"y":59},{"s":3,"x":-1.2,"y":47.6},{"s":3,"x":-1.15,"y":46},{"s":3,"x":-1.1,"y":49},{"s":3,"x":-1.0,"y":60.6},{"s":3,"x":-0.9,"y":70.4},{"s":3,"x":-0.8,"y":83.4},{"s":3,"x":-0.7,"y":108},{"s":3,"x":-0.6,"y":127},{"s":3,"x":-0.5,"y":140.4},{"s":3,"x":-0.45,"y":148.5},{"s":3,"x":-0.4,"y":157},{"s":3,"x":-0.35,"y":160},{"s":3,"x":-0.3,"y":158.5},{"s":3,"x":-0.25,"y":154},{"s":3,"x":-0.2,"y":146},{"s":3,"x":-0.15,"y":143},{"s":3,"x":-0.1,"y":142},{"s":3,"x":-0.05,"y":139.7},{"s":3,"x":0,"y":143.6},{"s":3,"x":0.05,"y":145.5},{"s":3,"x":0.1,"y":147.5},{"s":3,"x":0.15,"y":150},{"s":3,"x":0.2,"y":152.5},{"s":3,"x":0.25,"y":156.7},{"s":3,"x":0.3,"y":159},{"s":3,"x":0.35,"y":160},{"s":3,"x":0.4,"y":158},{"s":3,"x":0.45,"y":148.5},{"s":3,"x":0.5,"y":130.6},{"s":3,"x":0.55,"y":116},{"s":3,"x":0.6,"y":108},{"s":3,"x":0.7,"y":95},{"s":3,"x":0.8,"y":80},{"s":3,"x":0.9,"y":65.5},{"s":3,"x":1.0,"y":50.8},{"s":3,"x":1.1,"y":42.7},{"s":3,"x":1.2,"y":37.8},{"s":3,"x":1.3,"y":39.4},{"s":3,"x":1.4,"y":47.6},{"s":3,"x":1.46,"y":62.2},
{"s":4,"x":-1.45,"y":72},{"s":4,"x":-1.4,"y":67},{"s":4,"x":-1.3,"y":54},{"s":4,"x":-1.2,"y":42.7},{"s":4,"x":-1.15,"y":41},{"s":4,"x":-1.1,"y":47.6},{"s":4,"x":-1.0,"y":62.2},{"s":4,"x":-0.9,"y":80},{"s":4,"x":-0.8,"y":94.8},{"s":4,"x":-0.7,"y":118},{"s":4,"x":-0.6,"y":140},{"s":4,"x":-0.5,"y":150.8},{"s":4,"x":-0.45,"y":152.5},{"s":4,"x":-0.4,"y":153.4},{"s":4,"x":-0.35,"y":151.5},{"s":4,"x":-0.3,"y":145},{"s":4,"x":-0.25,"y":131},{"s":4,"x":-0.2,"y":121},{"s":4,"x":-0.15,"y":114},{"s":4,"x":-0.1,"y":107.8},{"s":4,"x":-0.05,"y":105.5},{"s":4,"x":0,"y":105},{"s":4,"x":0.05,"y":105.5},{"s":4,"x":0.1,"y":106.5},{"s":4,"x":0.15,"y":108},{"s":4,"x":0.2,"y":118},{"s":4,"x":0.25,"y":128},{"s":4,"x":0.3,"y":137},{"s":4,"x":0.35,"y":141.5},{"s":4,"x":0.4,"y":142},{"s":4,"x":0.45,"y":137},{"s":4,"x":0.5,"y":128},{"s":4,"x":0.55,"y":116},{"s":4,"x":0.6,"y":103},{"s":4,"x":0.7,"y":86},{"s":4,"x":0.8,"y":72},{"s":4,"x":0.9,"y":62.2},{"s":4,"x":1.0,"y":49.2},{"s":4,"x":1.1,"y":41},{"s":4,"x":1.2,"y":32.9},{"s":4,"x":1.25,"y":32},{"s":4,"x":1.3,"y":36.2},{"s":4,"x":1.4,"y":47.6},{"s":4,"x":1.46,"y":60.6},
{"s":5,"x":-1.45,"y":88.3},{"s":5,"x":-1.4,"y":76.9},{"s":5,"x":-1.3,"y":63.8},{"s":5,"x":-1.2,"y":54},{"s":5,"x":-1.15,"y":53.4},{"s":5,"x":-1.1,"y":59},{"s":5,"x":-1.0,"y":70.4},{"s":5,"x":-0.9,"y":83.4},{"s":5,"x":-0.8,"y":100},{"s":5,"x":-0.7,"y":131},{"s":5,"x":-0.6,"y":155},{"s":5,"x":-0.5,"y":173},{"s":5,"x":-0.45,"y":180},{"s":5,"x":-0.4,"y":185},{"s":5,"x":-0.35,"y":186.6},{"s":5,"x":-0.3,"y":182.7},{"s":5,"x":-0.25,"y":176},{"s":5,"x":-0.2,"y":167},{"s":5,"x":-0.15,"y":160},{"s":5,"x":-0.1,"y":155},{"s":5,"x":-0.05,"y":152},{"s":5,"x":0,"y":150.8},{"s":5,"x":0.05,"y":152},{"s":5,"x":0.1,"y":156},{"s":5,"x":0.15,"y":164},{"s":5,"x":0.2,"y":171},{"s":5,"x":0.25,"y":178},{"s":5,"x":0.3,"y":185},{"s":5,"x":0.35,"y":190},{"s":5,"x":0.4,"y":188.5},{"s":5,"x":0.45,"y":182},{"s":5,"x":0.5,"y":173},{"s":5,"x":0.55,"y":162},{"s":5,"x":0.6,"y":150},{"s":5,"x":0.7,"y":124},{"s":5,"x":0.8,"y":99.7},{"s":5,"x":0.9,"y":80},{"s":5,"x":1.0,"y":63.8},{"s":5,"x":1.1,"y":59},{"s":5,"x":1.2,"y":56.7},{"s":5,"x":1.3,"y":60.6},{"s":5,"x":1.4,"y":64.5},{"s":5,"x":1.46,"y":73},
{"s":6,"x":-1.45,"y":80},{"s":6,"x":-1.4,"y":72},{"s":6,"x":-1.3,"y":59},{"s":6,"x":-1.2,"y":44.3},{"s":6,"x":-1.15,"y":41},{"s":6,"x":-1.1,"y":47.6},{"s":6,"x":-1.0,"y":62.2},{"s":6,"x":-0.9,"y":80},{"s":6,"x":-0.8,"y":98},{"s":6,"x":-0.7,"y":130},{"s":6,"x":-0.6,"y":145},{"s":6,"x":-0.55,"y":167},{"s":6,"x":-0.5,"y":187.6},{"s":6,"x":-0.45,"y":196},{"s":6,"x":-0.4,"y":201},{"s":6,"x":-0.37,"y":203},{"s":6,"x":-0.3,"y":199},{"s":6,"x":-0.25,"y":187},{"s":6,"x":-0.2,"y":172},{"s":6,"x":-0.15,"y":153.4},{"s":6,"x":-0.1,"y":135},{"s":6,"x":-0.05,"y":120},{"s":6,"x":0,"y":106},{"s":6,"x":0.05,"y":92},{"s":6,"x":0.1,"y":85},{"s":6,"x":0.15,"y":90},{"s":6,"x":0.2,"y":100},{"s":6,"x":0.25,"y":111},{"s":6,"x":0.3,"y":118},{"s":6,"x":0.35,"y":124},{"s":6,"x":0.4,"y":128},{"s":6,"x":0.45,"y":130.6},{"s":6,"x":0.5,"y":130},{"s":6,"x":0.55,"y":126},{"s":6,"x":0.6,"y":113},{"s":6,"x":0.7,"y":98},{"s":6,"x":0.8,"y":86},{"s":6,"x":0.9,"y":70.4},{"s":6,"x":1.0,"y":54},{"s":6,"x":1.1,"y":46},{"s":6,"x":1.2,"y":36},{"s":6,"x":1.27,"y":29.6},{"s":6,"x":1.3,"y":30},{"s":6,"x":1.4,"y":39.4},{"s":6,"x":1.46,"y":45}
],
"f":[
{"s":1,"x":-1.45,"y":0.958},{"s":1,"x":-1.3,"y":0.963},{"s":1,"x":-1.15,"y":0.967},{"s":1,"x":-1.0,"y":0.97},{"s":1,"x":-0.85,"y":0.968},{"s":1,"x":-0.73,"y":0.975},{"s":1,"x":-0.6,"y":0.97},{"s":1,"x":-0.5,"y":0.965},{"s":1,"x":-0.44,"y":0.945},{"s":1,"x":-0.36,"y":0.937},{"s":1,"x":-0.29,"y":0.93},{"s":1,"x":-0.22,"y":0.92},{"s":1,"x":-0.16,"y":0.926},{"s":1,"x":-0.07,"y":0.937},{"s":1,"x":0,"y":0.939},{"s":1,"x":0.07,"y":0.933},{"s":1,"x":0.18,"y":0.937},{"s":1,"x":0.29,"y":0.944},{"s":1,"x":0.4,"y":0.945},{"s":1,"x":0.45,"y":0.941},{"s":1,"x":0.5,"y":0.95},{"s":1,"x":0.58,"y":0.961},{"s":1,"x":0.72,"y":0.967},{"s":1,"x":0.9,"y":0.962},{"s":1,"x":0.94,"y":0.955},{"s":1,"x":1.08,"y":0.962},{"s":1,"x":1.25,"y":0.96},{"s":1,"x":1.46,"y":0.957},
{"s":2,"x":-1.45,"y":0.955},{"s":2,"x":-1.3,"y":0.962},{"s":2,"x":-1.15,"y":0.965},{"s":2,"x":-1.0,"y":0.966},{"s":2,"x":-0.85,"y":0.965},{"s":2,"x":-0.73,"y":0.968},{"s":2,"x":-0.6,"y":0.967},{"s":2,"x":-0.5,"y":0.969},{"s":2,"x":-0.4,"y":0.965},{"s":2,"x":-0.29,"y":0.957},{"s":2,"x":-0.2,"y":0.945},{"s":2,"x":-0.11,"y":0.93},{"s":2,"x":-0.02,"y":0.915},{"s":2,"x":0.07,"y":0.926},{"s":2,"x":0.14,"y":0.935},{"s":2,"x":0.25,"y":0.947},{"s":2,"x":0.36,"y":0.95},{"s":2,"x":0.47,"y":0.953},{"s":2,"x":0.52,"y":0.961},{"s":2,"x":0.72,"y":0.969},{"s":2,"x":1.0,"y":0.967},{"s":2,"x":1.2,"y":0.964},{"s":2,"x":1.46,"y":0.96},
{"s":3,"x":-1.45,"y":0.96},{"s":3,"x":-1.3,"y":0.963},{"s":3,"x":-1.15,"y":0.965},{"s":3,"x":-1.0,"y":0.965},{"s":3,"x":-0.85,"y":0.966},{"s":3,"x":-0.7,"y":0.966},{"s":3,"x":-0.6,"y":0.964},{"s":3,"x":-0.5,"y":0.962},{"s":3,"x":-0.36,"y":0.957},{"s":3,"x":-0.22,"y":0.953},{"s":3,"x":-0.09,"y":0.941},{"s":3,"x":0,"y":0.937},{"s":3,"x":0.11,"y":0.947},{"s":3,"x":0.22,"y":0.951},{"s":3,"x":0.36,"y":0.951},{"s":3,"x":0.47,"y":0.955},{"s":3,"x":0.58,"y":0.965},{"s":3,"x":0.72,"y":0.972},{"s":3,"x":1.0,"y":0.97},{"s":3,"x":1.2,"y":0.968},{"s":3,"x":1.46,"y":0.962},
{"s":4,"x":-1.45,"y":0.953},{"s":4,"x":-1.3,"y":0.957},{"s":4,"x":-1.2,"y":0.955},{"s":4,"x":-1.1,"y":0.958},{"s":4,"x":-1.0,"y":0.962},{"s":4,"x":-0.85,"y":0.962},{"s":4,"x":-0.7,"y":0.963},{"s":4,"x":-0.6,"y":0.96},{"s":4,"x":-0.5,"y":0.957},{"s":4,"x":-0.36,"y":0.95},{"s":4,"x":-0.25,"y":0.944},{"s":4,"x":-0.11,"y":0.94},{"s":4,"x":0,"y":0.937},{"s":4,"x":0.11,"y":0.94},{"s":4,"x":0.22,"y":0.944},{"s":4,"x":0.36,"y":0.944},{"s":4,"x":0.47,"y":0.947},{"s":4,"x":0.58,"y":0.959},{"s":4,"x":0.9,"y":0.962},{"s":4,"x":1.1,"y":0.96},{"s":4,"x":1.3,"y":0.958},{"s":4,"x":1.46,"y":0.955},
{"s":5,"x":-1.45,"y":0.957},{"s":5,"x":-1.3,"y":0.962},{"s":5,"x":-1.15,"y":0.964},{"s":5,"x":-1.0,"y":0.966},{"s":5,"x":-0.85,"y":0.966},{"s":5,"x":-0.7,"y":0.965},{"s":5,"x":-0.6,"y":0.965},{"s":5,"x":-0.5,"y":0.965},{"s":5,"x":-0.36,"y":0.96},{"s":5,"x":-0.22,"y":0.953},{"s":5,"x":-0.07,"y":0.95},{"s":5,"x":0.07,"y":0.952},{"s":5,"x":0.22,"y":0.955},{"s":5,"x":0.36,"y":0.953},{"s":5,"x":0.47,"y":0.953},{"s":5,"x":0.58,"y":0.962},{"s":5,"x":0.72,"y":0.961},{"s":5,"x":1.0,"y":0.964},{"s":5,"x":1.2,"y":0.962},{"s":5,"x":1.46,"y":0.959},
{"s":6,"x":-1.45,"y":0.96},{"s":6,"x":-1.3,"y":0.966},{"s":6,"x":-1.15,"y":0.966},{"s":6,"x":-1.0,"y":0.966},{"s":6,"x":-0.85,"y":0.965},{"s":6,"x":-0.75,"y":0.962},{"s":6,"x":-0.68,"y":0.958},{"s":6,"x":-0.6,"y":0.958},{"s":6,"x":-0.5,"y":0.957},{"s":6,"x":-0.44,"y":0.957},{"s":6,"x":-0.36,"y":0.953},{"s":6,"x":-0.25,"y":0.961},{"s":6,"x":-0.18,"y":0.957},{"s":6,"x":-0.07,"y":0.945},{"s":6,"x":0,"y":0.944},{"s":6,"x":0.07,"y":0.939},{"s":6,"x":0.14,"y":0.937},{"s":6,"x":0.25,"y":0.93},{"s":6,"x":0.32,"y":0.932},{"s":6,"x":0.4,"y":0.93},{"s":6,"x":0.43,"y":0.922},{"s":6,"x":0.52,"y":0.95},{"s":6,"x":0.65,"y":0.961},{"s":6,"x":1.0,"y":0.962},{"s":6,"x":1.2,"y":0.963},{"s":6,"x":1.46,"y":0.96}
]
},
"columns":3,
"spacing":{"row":31,"column":87},
"bounds":"flush",
"resolve":{"scale":{"color":"independent"},"legend":{"color":"independent"}},
"concat":[
 {"width":268,"height":216,"layer":[
  {"data":{"name":"a"},"mark":{"type":"line","strokeWidth":1.2,"interpolate":"monotone"},
   "encoding":{"x":{"field":"x","type":"quantitative","scale":{"domain":[-1.45,1.46],"nice":false,"zero":false},"axis":{"labels":false,"grid":false,"title":null}},
    "y":{"field":"y","type":"quantitative","scale":{"domain":[0,50],"nice":false,"zero":false},"axis":{"values":[0,10,20,30,40,50],"title":null}},
    "color":{"field":"s","type":"nominal","scale":{"domain":[1,2,3,4,5,6],"range":["#2020ff","#D95319","#EDB120","#7E2F8E","#77AC30","#4DBEEE"]},
     "legend":{"orient":"top-right","offset":4,"title":null,"labelExpr":"datum.label + '-off'","symbolType":"M-1,0H4","symbolSize":121,"symbolStrokeWidth":1.5,"labelFont":"Liberation Serif","labelFontWeight":"bold","labelFontSize":12,"labelOffset":19,"padding":3,"rowPadding":1,"strokeColor":"#333","fillColor":"white"}}}},
  {"data":{"name":"v"},"mark":{"type":"rule","strokeDash":[6,3],"strokeWidth":1.2,"color":"#333"},"encoding":{"x":{"field":"x","type":"quantitative","scale":{"domain":[-1.45,1.46],"nice":false,"zero":false}}}},
  {"data":{"values":[{}]},"mark":{"type":"text","text":"TS","fontSize":26,"align":"center","baseline":"alphabetic","dx":-48,"dy":14},"encoding":{"x":{"datum":-1.45,"scale":{"domain":[-1.45,1.46],"nice":false,"zero":false}},"y":{"datum":50,"scale":{"domain":[0,50],"nice":false,"zero":false}}}},
  {"data":{"values":[{}]},"mark":{"type":"text","text":"σ","fontSize":18,"angle":270,"align":"left","baseline":"middle","dx":-24,"dy":-35},"encoding":{"x":{"datum":-1.45,"scale":{"domain":[-1.45,1.46],"nice":false,"zero":false}},"y":{"datum":25,"scale":{"domain":[0,50],"nice":false,"zero":false}}}},
  {"data":{"values":[{}]},"mark":{"type":"text","text":"Avg","fontSize":13,"angle":270,"align":"left","baseline":"middle","dx":-13,"dy":-31},"encoding":{"x":{"datum":-1.45,"scale":{"domain":[-1.45,1.46],"nice":false,"zero":false}},"y":{"datum":25,"scale":{"domain":[0,50],"nice":false,"zero":false}}}},
  {"data":{"values":[{}]},"mark":{"type":"text","text":"[-]","fontSize":18,"angle":270,"align":"left","baseline":"middle","dx":13,"dy":-35},"encoding":{"x":{"datum":-1.45,"scale":{"domain":[-1.45,1.46],"nice":false,"zero":false}},"y":{"datum":25,"scale":{"domain":[0,50],"nice":false,"zero":false}}}}
 ]},
 {"width":268,"height":216,"layer":[
  {"data":{"name":"b"},"mark":{"type":"line","strokeWidth":1.2},
   "encoding":{"x":{"field":"x","type":"quantitative","scale":{"domain":[-1.45,1.46],"nice":false,"zero":false},"axis":{"labels":false,"grid":false,"title":null}},
    "y":{"field":"y","type":"quantitative","scale":{"domain":[0,210],"nice":false,"zero":false},"axis":{"values":[0,50,100,150,200],"title":null}},
    "color":{"field":"s","type":"nominal","scale":{"domain":[1,2,3,4,5,6],"range":["#2020ff","#D95319","#EDB120","#7E2F8E","#77AC30","#4DBEEE"]},"legend":null}}},
  {"data":{"name":"v"},"mark":{"type":"rule","strokeDash":[6,3],"strokeWidth":1.2,"color":"#333"},"encoding":{"x":{"field":"x","type":"quantitative","scale":{"domain":[-1.45,1.46],"nice":false,"zero":false}}}},
  {"data":{"values":[{}]},"mark":{"type":"text","text":"E","fontSize":18,"angle":270,"align":"left","baseline":"middle","dx":-61,"dy":-38},"encoding":{"x":{"datum":-1.45,"scale":{"domain":[-1.45,1.46],"nice":false,"zero":false}},"y":{"datum":105,"scale":{"domain":[0,210],"nice":false,"zero":false}}}},
  {"data":{"values":[{}]},"mark":{"type":"text","text":"Com","fontSize":13,"angle":270,"align":"left","baseline":"middle","dx":-48,"dy":-34},"encoding":{"x":{"datum":-1.45,"scale":{"domain":[-1.45,1.46],"nice":false,"zero":false}},"y":{"datum":105,"scale":{"domain":[0,210],"nice":false,"zero":false}}}},
  {"data":{"values":[{}]},"mark":{"type":"text","text":"[um]","fontSize":18,"angle":270,"align":"left","baseline":"middle","dx":-16,"dy":-38},"encoding":{"x":{"datum":-1.45,"scale":{"domain":[-1.45,1.46],"nice":false,"zero":false}},"y":{"datum":105,"scale":{"domain":[0,210],"nice":false,"zero":false}}}}
 ]},
 {"width":268,"height":216,"layer":[
  {"data":{"name":"c"},"mark":{"type":"line","strokeWidth":1.2},
   "encoding":{"x":{"field":"x","type":"quantitative","scale":{"domain":[-1.45,1.46],"nice":false,"zero":false},"axis":{"labels":false,"grid":false,"title":null}},
    "y":{"field":"y","type":"quantitative","scale":{"domain":[0.6,1.1],"nice":false,"zero":false},"axis":{"values":[0.6,0.7,0.8,0.9,1,1.1],"labelExpr":"'' + datum.value","title":null}},
    "color":{"field":"s","type":"nominal","scale":{"domain":[1,2,3,4,5,6],"range":["#2020ff","#D95319","#EDB120","#7E2F8E","#77AC30","#4DBEEE"]},"legend":null}}},
  {"data":{"name":"v"},"mark":{"type":"rule","strokeDash":[6,3],"strokeWidth":1.2,"color":"#333"},"encoding":{"x":{"field":"x","type":"quantitative","scale":{"domain":[-1.45,1.46],"nice":false,"zero":false}}}},
  {"data":{"values":[{}]},"mark":{"type":"text","text":"CI [-]","fontSize":18,"angle":270,"align":"center","baseline":"middle","dx":7,"dy":-33},"encoding":{"x":{"datum":-1.45,"scale":{"domain":[-1.45,1.46],"nice":false,"zero":false}},"y":{"datum":0.85,"scale":{"domain":[0.6,1.1],"nice":false,"zero":false}}}}
 ]},
 {"width":268,"height":215,"layer":[
  {"data":{"name":"d"},"mark":{"type":"line","strokeWidth":1.2,"interpolate":"monotone"},
   "encoding":{"x":{"field":"x","type":"quantitative","scale":{"domain":[-1.45,1.46],"nice":false,"zero":false},"axis":{"values":[-1,-0.5,0,0.5,1],"labelExpr":"'' + datum.value","title":"x[m]","labelPadding":7,"titlePadding":0}},
    "y":{"field":"y","type":"quantitative","scale":{"domain":[0,180],"nice":false,"zero":false},"axis":{"values":[0,50,100,150],"title":null}},
    "color":{"field":"s","type":"nominal","scale":{"domain":[1,2,3,4,5,6],"range":["#2020ff","#D95319","#EDB120","#7E2F8E","#77AC30","#4DBEEE"]},"legend":null}}},
  {"data":{"name":"v"},"mark":{"type":"rule","strokeDash":[6,3],"strokeWidth":1.2,"color":"#333"},"encoding":{"x":{"field":"x","type":"quantitative","scale":{"domain":[-1.45,1.46],"nice":false,"zero":false}}}},
  {"data":{"values":[{}]},"mark":{"type":"text","text":"LS","fontSize":26,"align":"center","baseline":"alphabetic","dx":-47,"dy":20},"encoding":{"x":{"datum":-1.45,"scale":{"domain":[-1.45,1.46],"nice":false,"zero":false}},"y":{"datum":180,"scale":{"domain":[0,180],"nice":false,"zero":false}}}},
  {"data":{"values":[{}]},"mark":{"type":"text","text":"σ","fontSize":18,"angle":270,"align":"left","baseline":"middle","dx":-24,"dy":-35},"encoding":{"x":{"datum":-1.45,"scale":{"domain":[-1.45,1.46],"nice":false,"zero":false}},"y":{"datum":90,"scale":{"domain":[0,180],"nice":false,"zero":false}}}},
  {"data":{"values":[{}]},"mark":{"type":"text","text":"Avg","fontSize":13,"angle":270,"align":"left","baseline":"middle","dx":-13,"dy":-31},"encoding":{"x":{"datum":-1.45,"scale":{"domain":[-1.45,1.46],"nice":false,"zero":false}},"y":{"datum":90,"scale":{"domain":[0,180],"nice":false,"zero":false}}}},
  {"data":{"values":[{}]},"mark":{"type":"text","text":"[-]","fontSize":18,"angle":270,"align":"left","baseline":"middle","dx":13,"dy":-35},"encoding":{"x":{"datum":-1.45,"scale":{"domain":[-1.45,1.46],"nice":false,"zero":false}},"y":{"datum":90,"scale":{"domain":[0,180],"nice":false,"zero":false}}}},
  {"data":{"values":[{}]},"mark":{"type":"text","text":"×10","fontSize":14,"fontWeight":"normal","align":"right","baseline":"alphabetic","dx":-9,"dy":36},"encoding":{"x":{"datum":1.46,"scale":{"domain":[-1.45,1.46],"nice":false,"zero":false}},"y":{"datum":0,"scale":{"domain":[0,180],"nice":false,"zero":false}}}},
  {"data":{"values":[{}]},"mark":{"type":"text","text":"-3","fontSize":10,"fontWeight":"normal","align":"left","baseline":"alphabetic","dx":-9,"dy":28},"encoding":{"x":{"datum":1.46,"scale":{"domain":[-1.45,1.46],"nice":false,"zero":false}},"y":{"datum":0,"scale":{"domain":[0,180],"nice":false,"zero":false}}}}
 ]},
 {"width":268,"height":215,"layer":[
  {"data":{"name":"e"},"mark":{"type":"line","strokeWidth":1.2,"interpolate":"monotone"},
   "encoding":{"x":{"field":"x","type":"quantitative","scale":{"domain":[-1.45,1.46],"nice":false,"zero":false},"axis":{"values":[-1,-0.5,0,0.5,1],"labelExpr":"'' + datum.value","title":"x[m]","labelPadding":7,"titlePadding":0}},
    "y":{"field":"y","type":"quantitative","scale":{"domain":[0,210],"nice":false,"zero":false},"axis":{"values":[0,50,100,150,200],"title":null}},
    "color":{"field":"s","type":"nominal","scale":{"domain":[1,2,3,4,5,6],"range":["#2020ff","#D95319","#EDB120","#7E2F8E","#77AC30","#4DBEEE"]},"legend":null}}},
  {"data":{"name":"v"},"mark":{"type":"rule","strokeDash":[6,3],"strokeWidth":1.2,"color":"#333"},"encoding":{"x":{"field":"x","type":"quantitative","scale":{"domain":[-1.45,1.46],"nice":false,"zero":false}}}},
  {"data":{"values":[{}]},"mark":{"type":"text","text":"E","fontSize":18,"angle":270,"align":"left","baseline":"middle","dx":-61,"dy":-38},"encoding":{"x":{"datum":-1.45,"scale":{"domain":[-1.45,1.46],"nice":false,"zero":false}},"y":{"datum":105,"scale":{"domain":[0,210],"nice":false,"zero":false}}}},
  {"data":{"values":[{}]},"mark":{"type":"text","text":"Com","fontSize":13,"angle":270,"align":"left","baseline":"middle","dx":-48,"dy":-34},"encoding":{"x":{"datum":-1.45,"scale":{"domain":[-1.45,1.46],"nice":false,"zero":false}},"y":{"datum":105,"scale":{"domain":[0,210],"nice":false,"zero":false}}}},
  {"data":{"values":[{}]},"mark":{"type":"text","text":"[um]","fontSize":18,"angle":270,"align":"left","baseline":"middle","dx":-16,"dy":-38},"encoding":{"x":{"datum":-1.45,"scale":{"domain":[-1.45,1.46],"nice":false,"zero":false}},"y":{"datum":105,"scale":{"domain":[0,210],"nice":false,"zero":false}}}},
  {"data":{"values":[{}]},"mark":{"type":"text","text":"×10","fontSize":14,"fontWeight":"normal","align":"right","baseline":"alphabetic","dx":-9,"dy":36},"encoding":{"x":{"datum":1.46,"scale":{"domain":[-1.45,1.46],"nice":false,"zero":false}},"y":{"datum":0,"scale":{"domain":[0,210],"nice":false,"zero":false}}}},
  {"data":{"values":[{}]},"mark":{"type":"text","text":"-3","fontSize":10,"fontWeight":"normal","align":"left","baseline":"alphabetic","dx":-9,"dy":28},"encoding":{"x":{"datum":1.46,"scale":{"domain":[-1.45,1.46],"nice":false,"zero":false}},"y":{"datum":0,"scale":{"domain":[0,210],"nice":false,"zero":false}}}}
 ]},
 {"width":268,"height":215,"layer":[
  {"data":{"name":"f"},"mark":{"type":"line","strokeWidth":1.2},
   "encoding":{"x":{"field":"x","type":"quantitative","scale":{"domain":[-1.45,1.46],"nice":false,"zero":false},"axis":{"values":[-1,-0.5,0,0.5,1],"labelExpr":"'' + datum.value","title":"x[m]","labelPadding":7,"titlePadding":0}},
    "y":{"field":"y","type":"quantitative","scale":{"domain":[0.6,1.1],"nice":false,"zero":false},"axis":{"values":[0.6,0.7,0.8,0.9,1,1.1],"labelExpr":"'' + datum.value","title":null}},
    "color":{"field":"s","type":"nominal","scale":{"domain":[1,2,3,4,5,6],"range":["#2020ff","#D95319","#EDB120","#7E2F8E","#77AC30","#4DBEEE"]},"legend":null}}},
  {"data":{"name":"v"},"mark":{"type":"rule","strokeDash":[6,3],"strokeWidth":1.2,"color":"#333"},"encoding":{"x":{"field":"x","type":"quantitative","scale":{"domain":[-1.45,1.46],"nice":false,"zero":false}}}},
  {"data":{"values":[{}]},"mark":{"type":"text","text":"CI [-]","fontSize":18,"angle":270,"align":"center","baseline":"middle","dx":0,"dy":-35},"encoding":{"x":{"datum":-1.45,"scale":{"domain":[-1.45,1.46],"nice":false,"zero":false}},"y":{"datum":0.85,"scale":{"domain":[0.6,1.1],"nice":false,"zero":false}}}},
  {"data":{"values":[{}]},"mark":{"type":"text","text":"×10","fontSize":14,"fontWeight":"normal","align":"right","baseline":"alphabetic","dx":-9,"dy":36},"encoding":{"x":{"datum":1.46,"scale":{"domain":[-1.45,1.46],"nice":false,"zero":false}},"y":{"datum":0.6,"scale":{"domain":[0.6,1.1],"nice":false,"zero":false}}}},
  {"data":{"values":[{}]},"mark":{"type":"text","text":"-3","fontSize":10,"fontWeight":"normal","align":"left","baseline":"alphabetic","dx":-9,"dy":28},"encoding":{"x":{"datum":1.46,"scale":{"domain":[-1.45,1.46],"nice":false,"zero":false}},"y":{"datum":0.6,"scale":{"domain":[0.6,1.1],"nice":false,"zero":false}}}}
 ]}
]
}
